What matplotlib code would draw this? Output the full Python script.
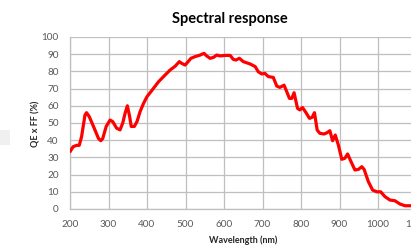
import matplotlib.pyplot as plt
from matplotlib.patches import Rectangle

# Spectral response curve (nm, QE x FF %)
wavelength = [200, 208, 217, 224, 230, 239, 243, 250, 261, 274, 280, 285, 294,
              304, 311, 321, 330, 337, 343, 349, 355, 359, 367, 374, 382, 391,
              400, 417, 430, 443, 460, 473, 484, 490, 499, 507, 514, 525, 538,
              548, 555, 564, 573, 581, 590, 603, 616, 624, 631, 640, 650, 668,
              681, 689, 698, 706, 715, 728, 737, 745, 756, 763, 770, 776, 782,
              791, 797, 804, 813, 822, 829, 835, 842, 849, 860, 868, 875, 882,
              889, 897, 906, 914, 921, 930, 940, 949, 958, 964, 975, 986, 997,
              1007, 1018, 1031, 1044, 1057, 1070, 1086]
qe_ff = [33.3, 36.2, 37.0, 37.0, 42.0, 54.7, 56.0, 53.7, 48.0, 41.0, 39.7, 41.0, 48.0,
         51.7, 50.8, 47.0, 46.0, 50.0, 55.6, 60.0, 53.7, 48.0, 48.0, 50.8, 56.6, 61.4,
         65.3, 70.2, 74.0, 77.0, 80.8, 83.0, 85.7, 84.7, 83.7, 85.7, 87.6, 88.6, 89.5,
         90.5, 89.0, 87.6, 88.2, 89.5, 89.0, 89.3, 89.3, 87.0, 86.6, 87.6, 85.7, 84.3,
         82.8, 79.8, 78.5, 78.9, 77.0, 76.5, 71.5, 70.7, 72.0, 68.2, 64.3, 64.3, 67.6,
         58.5, 57.6, 59.0, 56.0, 52.7, 53.3, 56.0, 45.9, 44.0, 43.6, 44.4, 45.5, 39.7,
         43.0, 37.2, 28.9, 29.5, 32.0, 27.5, 22.7, 23.0, 24.6, 23.0, 15.9, 11.0, 10.0,
         10.0, 7.2, 5.2, 4.8, 2.9, 1.9, 1.9]

x_ticks = [200, 300, 400, 500, 600, 700, 800, 900, 1000, 1100]
y_ticks = [0, 10, 20, 30, 40, 50, 60, 70, 80, 90, 100]

plt.rcParams['font.family'] = ['Lato', 'DejaVu Sans']

W, H = 411, 248
fig = plt.figure(figsize=(W / 100, H / 100), dpi=100)
ax = fig.add_axes([70 / W, 1 - 209 / H, 346.5 / W, 172 / H])

ax.plot(wavelength, qe_ff, color='#FF0000', lw=2.3, solid_joinstyle='round',
        solid_capstyle='round', zorder=3)

ax.set_xlim(200, 1100)
ax.set_ylim(0, 100)
ax.set_xticks(x_ticks)
ax.set_yticks(y_ticks)
ax.grid(True, color='#BFBFBF', lw=0.9)
ax.set_axisbelow(True)
for side in ['top', 'right']:
    ax.spines[side].set_visible(False)
for side in ['left', 'bottom']:
    ax.spines[side].set_color('#BFBFBF')
    ax.spines[side].set_linewidth(0.9)
ax.tick_params(length=0, labelsize=7.2, labelcolor='#595959', pad=8)

fig.text(230 / W, 1 - 18.5 / H, 'Spectral response', ha='center', va='center',
         fontsize=10.5, fontweight='bold', color='#000000')
fig.text(243 / W, 1 - 240.5 / H, 'Wavelength (nm)', ha='center', va='center',
         fontsize=6.5, fontweight='bold', color='#262626')
fig.text(36 / W, 1 - 124 / H, 'QE x FF (%)', ha='center', va='center',
         rotation=90, fontsize=6.5, fontweight='bold', color='#262626')

# faint gray box at the left edge
fig.patches.append(Rectangle((0, 1 - 145 / H), 10 / W, 15 / H,
                             transform=fig.transFigure, color='#F0F0F0', lw=0))

fig.savefig('out.png', dpi=100)
